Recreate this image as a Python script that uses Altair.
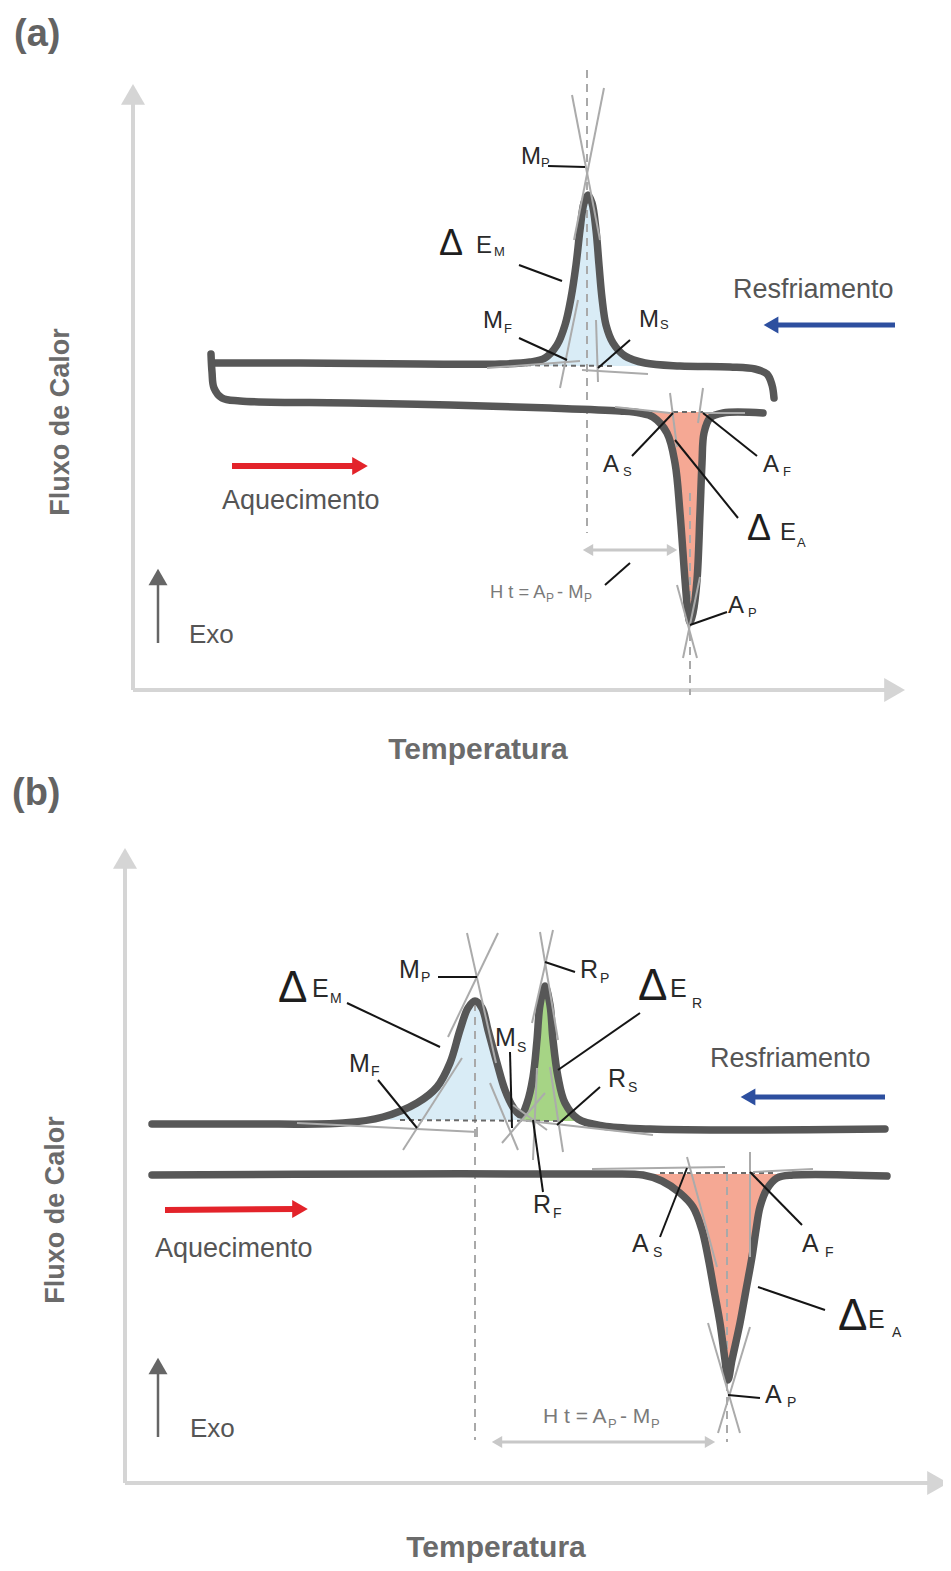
import altair as alt
import pandas as pd

# ---------------- canvas (data units = schematic units) ----------------
W, H = 935, 1555
X0, Y0 = 8, 8
FONT = "Liberation Sans"

# ---------------- curves (Temperatura vs Fluxo de Calor, schematic units) ----------------
a_cool_x = [214, 300, 420, 500, 530, 545, 557, 565, 571, 576, 580, 584, 588, 592, 596, 599, 602, 606, 613, 625, 645, 680, 730, 755, 767, 772, 774]
a_cool_y = [363, 363, 364, 364, 362, 358, 345, 325, 298, 265, 230, 203, 195, 203, 230, 265, 298, 325, 343, 356, 363, 366, 367, 369, 374, 385, 398]

a_heat_x = [211, 212, 214, 222, 240, 350, 450, 550, 620, 640, 653, 667, 675, 680, 685, 688, 690, 693, 697, 700, 702, 704, 710, 723, 763]
a_heat_y = [354, 372, 388, 398, 401, 403, 405, 408, 411, 413, 417, 433, 463, 513, 580, 613, 622, 613, 580, 513, 463, 433, 418, 413, 413]

b_cool_x = [152, 250, 343, 383, 417, 437, 450, 460, 468, 475, 482, 488, 497, 505, 513, 521, 527, 533, 537, 540, 545, 550, 553, 558, 565, 578, 603, 650, 750, 885]
b_cool_y = [1124, 1124, 1123, 1117, 1103, 1087, 1063, 1030, 1008, 1001, 1008, 1030, 1063, 1090, 1107, 1115, 1103, 1077, 1040, 1005, 986, 1005, 1040, 1077, 1103, 1119, 1126, 1129, 1130, 1129]

b_heat_x = [152, 400, 600, 643, 662, 680, 693, 702, 708, 714, 720, 725, 728, 732, 740, 746, 752, 756, 760, 767, 777, 793, 887]
b_heat_y = [1175, 1174, 1174, 1175, 1181, 1193, 1207, 1230, 1257, 1290, 1323, 1360, 1380, 1360, 1323, 1290, 1257, 1230, 1207, 1189, 1178, 1175, 1176]

# fills: (curve, x-range, baseline, colour)
fill_specs = [
    ("a_cool", 530, 645, 366, "#d9ecf6"),
    ("a_heat", 640, 723, 412, "#f5a894"),
    ("b_cool", 383, 521, 1120, "#d9ecf6"),
    ("b_cool", 521, 578, 1121, "#a6d485"),
    ("b_heat", 643, 793, 1174, "#f5a894"),
]

# ---------------- segments ----------------
axis_x1 = [133, 133, 125, 125]
axis_y1 = [690, 690, 1483, 1483]
axis_x2 = [133, 892, 125, 935]
axis_y2 = [100, 690, 862, 1483]

dash_x1 = [587, 690, 475, 727]
dash_y1 = [70, 493, 1003, 1173]
dash_x2 = [587, 690, 475, 727]
dash_y2 = [533, 695, 1440, 1442]

base_x1 = [490, 673, 400, 660]
base_y1 = [365, 412, 1120, 1173]
base_x2 = [613, 703, 563, 773]
base_y2 = [366, 412, 1121, 1173]

tan_x1 = [572, 604, 560, 598, 487, 582, 670, 703, 677, 700, 615, 703,
          467, 498, 403, 518, 297, 477, 540, 553, 537, 550, 502, 513, 520, 592, 753, 687, 750, 708, 750]
tan_y1 = [95, 88, 388, 382, 368, 370, 393, 388, 585, 577, 407, 413,
          933, 933, 1150, 1150, 1123, 1127, 932, 930, 1068, 1067, 1143, 1105, 1120, 1169, 1172, 1157, 1152, 1323, 1327]
tan_x2 = [600, 574, 578, 596, 580, 648, 677, 698, 697, 683, 670, 745,
          496, 448, 462, 490, 477, 477, 558, 532, 533, 563, 545, 547, 653, 725, 813, 717, 750, 740, 718]
tan_y2 = [240, 240, 300, 320, 361, 374, 447, 423, 658, 658, 413, 413,
          1063, 1037, 1058, 1083, 1132, 1137, 1040, 1023, 1160, 1152, 1093, 1130, 1135, 1167, 1169, 1267, 1257, 1433, 1433]

lead_x1 = [548, 519, 519, 630, 632, 757, 738, 727, 605,
           347, 438, 378, 510, 545, 640, 600, 533, 660, 802, 825, 760]
lead_y1 = [166, 265, 338, 340, 456, 456, 518, 612, 585,
           1003, 977, 1080, 1052, 962, 1013, 1087, 1120, 1237, 1225, 1310, 1398]
lead_x2 = [585, 562, 567, 598, 673, 703, 675, 690, 630,
           440, 477, 417, 512, 575, 558, 557, 543, 687, 750, 758, 728]
lead_y2 = [167, 281, 360, 368, 413, 413, 440, 625, 563,
           1047, 977, 1128, 1128, 972, 1070, 1125, 1192, 1168, 1172, 1287, 1395]

# direction arrows: shafts
arr_x1 = [232, 165, 895, 885, 158, 158, 588, 497]
arr_y1 = [466, 1210, 325, 1097, 643, 1437, 550, 1442]
arr_x2 = [356, 296, 775, 752, 158, 158, 672, 710]
arr_y2 = [466, 1209, 325, 1097, 580, 1370, 550, 1442]
arr_col = ["#e3232a", "#e3232a", "#2d4f9f", "#2d4f9f", "#666666", "#666666", "#c8c8c8", "#c8c8c8"]
arr_w = [6, 6, 5, 5, 2.5, 2.5, 3, 3]

# arrow heads
head_x = [133, 894.6, 125, 937.6, 360, 300, 771, 748, 158, 158, 588, 672, 497, 710]
head_y = [94.4, 690, 858.4, 1483, 466, 1209, 325, 1097, 577, 1366, 550, 550, 1442, 1442]
head_shape = ["triangle-up", "triangle-right", "triangle-up", "triangle-right",
              "triangle-right", "triangle-right", "triangle-left", "triangle-left",
              "triangle-up", "triangle-up", "triangle-left", "triangle-right", "triangle-left", "triangle-right"]
head_size = [576, 576, 576, 576, 324, 324, 289, 289, 361, 361, 144, 144, 144, 144]
head_col = ["#d5d5d5"] * 4 + ["#e3232a"] * 2 + ["#2d4f9f"] * 2 + ["#666666"] * 2 + ["#c8c8c8"] * 4

# ---------------- texts ----------------
lab_text = ["M", "E", "M", "M", "A", "A", "E", "A",
            "E", "M", "M", "M", "R", "E", "R", "R", "A", "A", "E", "A"]
lab_x = [521, 476, 483, 639, 603, 763, 780, 728,
         312, 399, 349, 495, 580, 670, 608, 533, 632, 802, 868, 765]
lab_y = [164, 253, 328, 327, 472, 472, 540, 613,
         997, 978, 1072, 1046, 978, 997, 1087, 1213, 1252, 1252, 1328, 1403]
lab_size = [24] * 8 + [25] * 12

sub_text = ["P", "M", "F", "S", "S", "F", "A", "P",
            "M", "P", "F", "S", "P", "R", "S", "F", "S", "F", "A", "P"]
sub_x = [541, 494, 504, 660, 623, 783, 797, 748,
         330, 421, 371, 517, 600, 692, 628, 553, 653, 825, 892, 787]
sub_y = [167, 256, 333, 329, 476, 476, 547, 617,
         1003, 982, 1076, 1052, 983, 1008, 1092, 1218, 1257, 1257, 1337, 1407]
sub_size = [13] * 8 + [14] * 12

delta_x = [439, 747, 278, 638, 838]
delta_y = [255, 540, 1002, 1000, 1330]
delta_size = [36, 36, 44, 44, 44]

misc_text = ["Exo", "Exo", "Aquecimento", "Aquecimento", "Resfriamento", "Resfriamento",
             "H t = A", "P", "- M", "P", "H t = A", "P", "- M", "P"]
misc_x = [189, 190, 222, 155, 733, 710, 490, 546, 557, 584, 543, 608, 620, 651]
misc_y = [643, 1437, 509, 1257, 298, 1067, 598, 602, 598, 602, 1423, 1428, 1423, 1428]
misc_size = [26, 26, 27, 27, 27, 27, 18.3, 12, 18.3, 12, 21, 13, 21, 13]
misc_col = ["#555555"] * 6 + ["#7a7a7a"] * 8

panel_text = ["(a)", "(b)"]
panel_x = [14, 12]
panel_y = [46, 805]

xtitle_x = [478, 496]
xtitle_y = [759, 1557]
ytitle_x = [61, 56]
ytitle_y = [422, 1210]

# ---------------- build tables ----------------
curves = {"a_cool": (a_cool_x, a_cool_y), "a_heat": (a_heat_x, a_heat_y),
          "b_cool": (b_cool_x, b_cool_y), "b_heat": (b_heat_x, b_heat_y)}
rows = []
for cid, (cx, cy) in curves.items():
    for i, (xv, yv) in enumerate(zip(cx, cy)):
        rows.append({"id": cid, "i": i, "x": xv, "y": yv})
curve_df = pd.DataFrame(rows)

frows = []
for k, (cid, lo, hi, base, col) in enumerate(fill_specs):
    cx, cy = curves[cid]
    for xv, yv in zip(cx, cy):
        if lo <= xv <= hi:
            frows.append({"fid": k, "x": xv, "y": yv, "y2": base, "c": col})
fill_df = pd.DataFrame(frows)


def seg_df(x1, y1, x2, y2, **extra):
    d = pd.DataFrame({"x": x1, "y": y1, "x2": x2, "y2": y2})
    for k, v in extra.items():
        d[k] = v
    return d


xs = alt.Scale(domain=[X0, X0 + W], nice=False, zero=False)
ys = alt.Scale(domain=[Y0, Y0 + H], nice=False, zero=False, reverse=True)
X = lambda f="x": alt.X(f"{f}:Q", scale=xs, axis=None)
Y = lambda f="y": alt.Y(f"{f}:Q", scale=ys, axis=None)


def rules(df, color, width, dash=None):
    kw = dict(color=color, strokeWidth=width)
    if dash:
        kw["strokeDash"] = dash
    return alt.Chart(df).mark_rule(**kw).encode(x=X(), y=Y(), x2="x2:Q", y2="y2:Q")


axes = rules(seg_df(axis_x1, axis_y1, axis_x2, axis_y2), "#d5d5d5", 4)

fills = alt.Chart(fill_df).mark_area(interpolate="catmull-rom", opacity=1).encode(
    x=X(), y=Y(), y2="y2:Q",
    color=alt.Color("c:N", scale=None), detail="fid:N")

dashes = rules(seg_df(dash_x1, dash_y1, dash_x2, dash_y2), "#a9a9a9", 2, [8, 6])
bases = rules(seg_df(base_x1, base_y1, base_x2, base_y2), "#6a6a6a", 2, [5, 4])

lines = alt.Chart(curve_df).mark_line(
    interpolate="catmull-rom", color="#575757", strokeWidth=7.5,
    strokeCap="round", strokeJoin="round").encode(
    x=X(), y=Y(), detail="id:N", order="i:Q")

tangents = rules(seg_df(tan_x1, tan_y1, tan_x2, tan_y2), "#ababab", 2)
leaders = rules(seg_df(lead_x1, lead_y1, lead_x2, lead_y2), "#151515", 2)

arr_df = seg_df(arr_x1, arr_y1, arr_x2, arr_y2, c=arr_col, w=arr_w)
shafts = alt.Chart(arr_df).mark_rule().encode(
    x=X(), y=Y(), x2="x2:Q", y2="y2:Q",
    color=alt.Color("c:N", scale=None), strokeWidth=alt.StrokeWidth("w:Q", scale=None))

head_df = pd.DataFrame({"x": head_x, "y": head_y, "s": head_shape, "z": head_size, "c": head_col})
heads = alt.Chart(head_df).mark_point(filled=True, opacity=1, strokeWidth=0).encode(
    x=X(), y=Y(), shape=alt.Shape("s:N", scale=None),
    size=alt.Size("z:Q", scale=None), color=alt.Color("c:N", scale=None))


def texts(text, x, y, size, color, align="left", weight="normal", angle=None, baseline="alphabetic"):
    d = pd.DataFrame({"t": text, "x": x, "y": y, "fs": size, "c": color})
    kw = dict(align=align, baseline=baseline, font=FONT, fontWeight=weight)
    if angle is not None:
        kw["angle"] = angle
    return alt.Chart(d).mark_text(**kw).encode(
        x=X(), y=Y(), text="t:N",
        size=alt.Size("fs:Q", scale=None), color=alt.Color("c:N", scale=None))


t_lab = texts(lab_text, lab_x, lab_y, lab_size, ["#2a2a2a"] * len(lab_text))
t_sub = texts(sub_text, sub_x, sub_y, sub_size, ["#2a2a2a"] * len(sub_text))
t_delta = texts(["Δ"] * len(delta_x), delta_x, delta_y, delta_size, ["#1e1e1e"] * len(delta_x))
t_misc = texts(misc_text, misc_x, misc_y, misc_size, misc_col)
t_panel = texts(panel_text, panel_x, panel_y, [38, 38], ["#636363"] * 2, weight="bold")
t_xt = texts(["Temperatura"] * 2, xtitle_x, xtitle_y, [30, 30], ["#6b6b6b"] * 2, align="center", weight="bold")
t_yt = texts(["Fluxo de Calor"] * 2, ytitle_x, ytitle_y, [27, 27], ["#6b6b6b"] * 2,
             align="center", weight="bold", angle=270, baseline="middle")

chart = alt.layer(
    axes, fills, dashes, bases, lines, tangents, shafts, heads, leaders,
    t_lab, t_sub, t_delta, t_misc, t_panel, t_xt, t_yt
).properties(
    width=W, height=H, padding=0, autosize=alt.AutoSizeParams(type="none")
).configure_view(stroke=None)

chart.save("out.html", embed_options={"renderer": "svg", "actions": False})
